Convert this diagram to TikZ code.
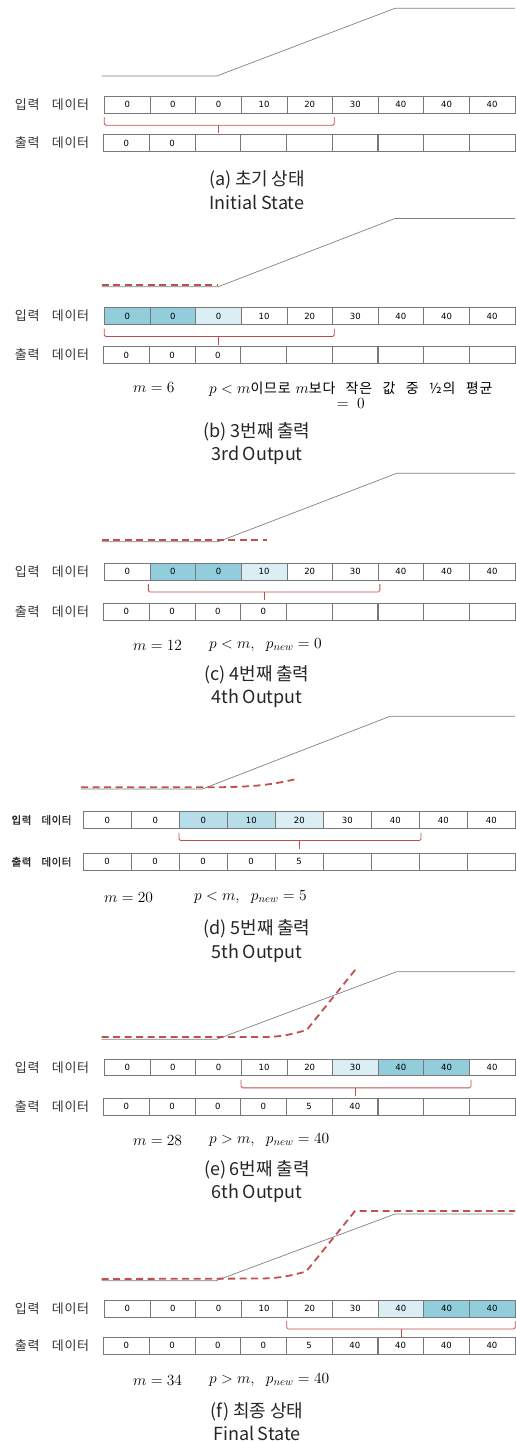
\documentclass[tikz,border=0pt]{standalone}
\usepackage{fix-cm}
\usepackage{fontspec}
\usetikzlibrary{positioning,calc}
\newfontfamily\krfont{Noto Sans CJK KR}[WordSpace=0.9]
\newfontfamily\krlabel{Noto Sans CJK KR}[LetterSpace=5,WordSpace=3.5]
\newfontfamily\krlabelb{Noto Sans CJK KR}[LetterSpace=5,WordSpace=3.5,FakeBold=1.5]
\newfontfamily\krnote{Noto Sans CJK KR}[LetterSpace=6,WordSpace=2.6]
\newfontfamily\numfont{DejaVu Sans}
\definecolor{deepcell}{RGB}{146,205,220}
\definecolor{midcell}{RGB}{183,222,232}
\definecolor{palecell}{RGB}{218,238,243}
\definecolor{redline}{RGB}{192,80,77}
\definecolor{rampgray}{RGB}{128,128,128}
\definecolor{cellline}{RGB}{120,120,120}

\begin{document}
\begin{tikzpicture}[x=1pt, y=-1pt,
		cell/.style = {draw=cellline, line width=0.5pt, minimum width=45.6pt, minimum height=16.6pt, inner sep=0pt, font=\numfont\fontsize{8.5}{10}\selectfont},
		widecell/.style = {cell, minimum width=48pt},
		rowlabel/.style = {font=\krlabel\fontsize{13}{15}\selectfont, text=black!80},
		rowlabelb/.style = {font=\krlabelb\fontsize{10.5}{12}\selectfont, text=black!85},
		ramp/.style = {draw=rampgray, line width=0.7pt},
		guess/.style = {draw=redline, line width=1.8pt, dash pattern=on 7pt off 4.5pt},
		brace/.style = {draw=redline, line width=0.8pt, rounded corners=1.5pt},
		note/.style = {font=\fontsize{15.5}{15}\selectfont, anchor=west, inner sep=0pt},
		subcap/.style = {font=\krfont\fontsize{18}{23.5}\selectfont, align=center, text=black!85}
		]
		\useasboundingbox (0,0) rectangle (515,1442);
		
		% (a) initial state
		\draw[ramp] (101.7,76) -- (216.7,76) -- (395,8.3) -- (515,8.3);
		\node[rowlabel] (a-inlbl) at (52,104.7) {입력 데이터};
		\foreach \v/\c [count=\i] in {0/white,0/white,0/white,10/white,20/white,30/white,40/white,40/white,40/white}
			\node[cell,fill=\c] (a-i\i) at ({104.5+(\i-0.5)*45.6},104.7) {\v};
		\node[rowlabel] (a-outlbl) at (52,143) {출력 데이터};
		\foreach \v [count=\i] in {0,0,{},{},{},{},{},{},{}}
			\node[cell] (a-o\i) at ({103.5+(\i-0.5)*45.7},143) {\v};
		\draw[brace] ([yshift=-4pt]a-i1.south west) |- ([xshift=1.5pt,yshift=-12pt]a-i5.south east) -- ([xshift=1.5pt,yshift=-4pt]a-i5.south east);
		\draw[brace] ([yshift=-12pt]a-i3.south) -- ([yshift=-20pt]a-i3.south);
		\node[subcap] (a-cap) at (257,190) {(a) 초기 상태\\Initial State};
		
		% (b) 3rd output
		\draw[ramp] (101.7,286.7) -- (218.3,286.7) -- (395,218.5) -- (515,218.5);
		\draw[guess] (101.7,285) -- (218,285);
		\node[rowlabel] (b-inlbl) at (52,316) {입력 데이터};
		\foreach \v/\c [count=\i] in {0/deepcell,0/deepcell,0/palecell,10/white,20/white,30/white,40/white,40/white,40/white}
			\node[cell,fill=\c] (b-i\i) at ({104.5+(\i-0.5)*45.6},316) {\v};
		\node[rowlabel] (b-outlbl) at (52,355) {출력 데이터};
		\foreach \v [count=\i] in {0,0,0,{},{},{},{},{},{}}
			\node[cell] (b-o\i) at ({103.5+(\i-0.5)*45.7},355) {\v};
		\draw[brace] ([yshift=-4pt]b-i1.south west) |- ([xshift=1.5pt,yshift=-12pt]b-i5.south east) -- ([xshift=1.5pt,yshift=-4pt]b-i5.south east);
		\draw[brace] ([yshift=-12pt]b-i3.south) -- ([yshift=-20pt]b-i3.south);
		\node[note] (b-m) at (133,388) {$m=6$};
		\node[note,align=center] (b-p) at (209,395.5) {$p<m${\krnote\fontsize{14}{15}\selectfont 이므로} $m${\krnote\fontsize{14}{15}\selectfont 보다 작은 값 중 ½의 평균}\\$=\;0$};
		\node[subcap] (b-cap) at (257,443.5) {(b) 3번째 출력\\3rd Output};
		
		% (c) 4th output
		\draw[ramp] (101.7,541.7) -- (218.3,541.7) -- (396.7,473.3) -- (515,473.3);
		\draw[guess] (101.7,540) -- (267,540);
		\node[rowlabel] (c-inlbl) at (52,571.5) {입력 데이터};
		\foreach \v/\c [count=\i] in {0/white,0/deepcell,0/deepcell,10/palecell,20/white,30/white,40/white,40/white,40/white}
			\node[cell,fill=\c] (c-i\i) at ({104.5+(\i-0.5)*45.6},571.5) {\v};
		\node[rowlabel] (c-outlbl) at (52,611.8) {출력 데이터};
		\foreach \v [count=\i] in {0,0,0,0,{},{},{},{},{}}
			\node[cell] (c-o\i) at ({103.5+(\i-0.5)*45.7},611.8) {\v};
		\draw[brace] ([xshift=-1.5pt,yshift=-4pt]c-i2.south west) |- ([xshift=1.5pt,yshift=-12pt]c-i6.south east) -- ([xshift=1.5pt,yshift=-4pt]c-i6.south east);
		\draw[brace] ([yshift=-12pt]c-i4.south) -- ([yshift=-20pt]c-i4.south);
		\node[note] (c-m) at (133,645) {$m=12$};
		\node[note] (c-p) at (209,645) {$p<m,\;\; p_{new}=0$};
		\node[subcap] (c-cap) at (257,686.7) {(c) 4번째 출력\\4th Output};
		
		% (d) 5th output
		\draw[ramp] (81,789) -- (202.3,789) -- (390,716.3) -- (515,716.3);
		\draw[guess] (81,787.3) -- (203,787.3) .. controls (250,787.3) and (268,785.5) .. (295,779.3);
		\node[rowlabelb] (d-inlbl) at (41.5,820) {입력 데이터};
		\foreach \v/\c [count=\i] in {0/white,0/white,0/midcell,10/midcell,20/palecell,30/white,40/white,40/white,40/white}
			\node[widecell,fill=\c] (d-i\i) at ({83.3+(\i-0.5)*48},820) {\v};
		\node[rowlabelb] (d-outlbl) at (41.5,861.8) {출력 데이터};
		\foreach \v [count=\i] in {0,0,0,0,5,{},{},{},{}}
			\node[widecell] (d-o\i) at ({83+(\i-0.5)*48},861.8) {\v};
		\draw[brace] ([yshift=-4pt]d-i3.south west) |- ([xshift=1.5pt,yshift=-12pt]d-i7.south east) -- ([xshift=1.5pt,yshift=-4pt]d-i7.south east);
		\draw[brace] ([yshift=-12pt]d-i5.south) -- ([yshift=-20pt]d-i5.south);
		\node[note] (d-m) at (104,897) {$m=20$};
		\node[note] (d-p) at (194,897) {$p<m,\;\; p_{new}=5$};
		\node[subcap] (d-cap) at (257,941) {(d) 5번째 출력\\5th Output};
		
		% (e) 6th output
		\draw[ramp] (101.7,1039.3) -- (216.7,1039.3) -- (396.7,971.7) -- (515,971.7);
		\draw[guess] (101.7,1037) -- (262,1037) .. controls (285,1037) and (295,1033) .. (306.7,1030) -- (356.7,968);
		\node[rowlabel] (e-inlbl) at (52,1067.3) {입력 데이터};
		\foreach \v/\c [count=\i] in {0/white,0/white,0/white,10/white,20/white,30/palecell,40/deepcell,40/deepcell,40/white}
			\node[cell,fill=\c] (e-i\i) at ({104.5+(\i-0.5)*45.6},1067.3) {\v};
		\node[rowlabel] (e-outlbl) at (52,1106.5) {출력 데이터};
		\foreach \v [count=\i] in {0,0,0,0,5,40,{},{},{}}
			\node[cell] (e-o\i) at ({103.5+(\i-0.5)*45.7},1106.5) {\v};
		\draw[brace] ([yshift=-4pt]e-i4.south west) |- ([xshift=1.5pt,yshift=-12pt]e-i8.south east) -- ([xshift=1.5pt,yshift=-4pt]e-i8.south east);
		\draw[brace] ([yshift=-12pt]e-i6.south) -- ([yshift=-20pt]e-i6.south);
		\node[note] (e-m) at (133,1140) {$m=28$};
		\node[note] (e-p) at (209,1140) {$p>m,\;\; p_{new}=40$};
		\node[subcap] (e-cap) at (257,1181.7) {(e) 6번째 출력\\6th Output};
		
		% (f) final state
		\draw[ramp] (101.7,1280.7) -- (216,1280.7) -- (395,1214) -- (513.3,1214);
		\draw[guess] (101.7,1279) -- (262,1278.5) .. controls (285,1278) and (295,1274) .. (306,1271.7) -- (355,1211) -- (515,1211);
		\node[rowlabel] (f-inlbl) at (52,1308.5) {입력 데이터};
		\foreach \v/\c [count=\i] in {0/white,0/white,0/white,10/white,20/white,30/white,40/palecell,40/deepcell,40/deepcell}
			\node[cell,fill=\c] (f-i\i) at ({104.5+(\i-0.5)*45.6},1308.5) {\v};
		\node[rowlabel] (f-outlbl) at (52,1345.5) {출력 데이터};
		\foreach \v [count=\i] in {0,0,0,0,5,40,40,40,40}
			\node[cell] (f-o\i) at ({103.5+(\i-0.5)*45.7},1345.5) {\v};
		\draw[brace] ([yshift=-4pt]f-i5.south west) |- ([yshift=-12pt]f-i9.south east) -- ([yshift=-4pt]f-i9.south east);
		\draw[brace] ([yshift=-12pt]f-i7.south) -- ([yshift=-20pt]f-i7.south);
		\node[note] (f-m) at (133,1380) {$m=34$};
		\node[note] (f-p) at (209,1380) {$p>m,\;\; p_{new}=40$};
		\node[subcap] (f-cap) at (257,1421.7) {(f) 최종 상태\\Final State};
	\end{tikzpicture}
\end{document}
